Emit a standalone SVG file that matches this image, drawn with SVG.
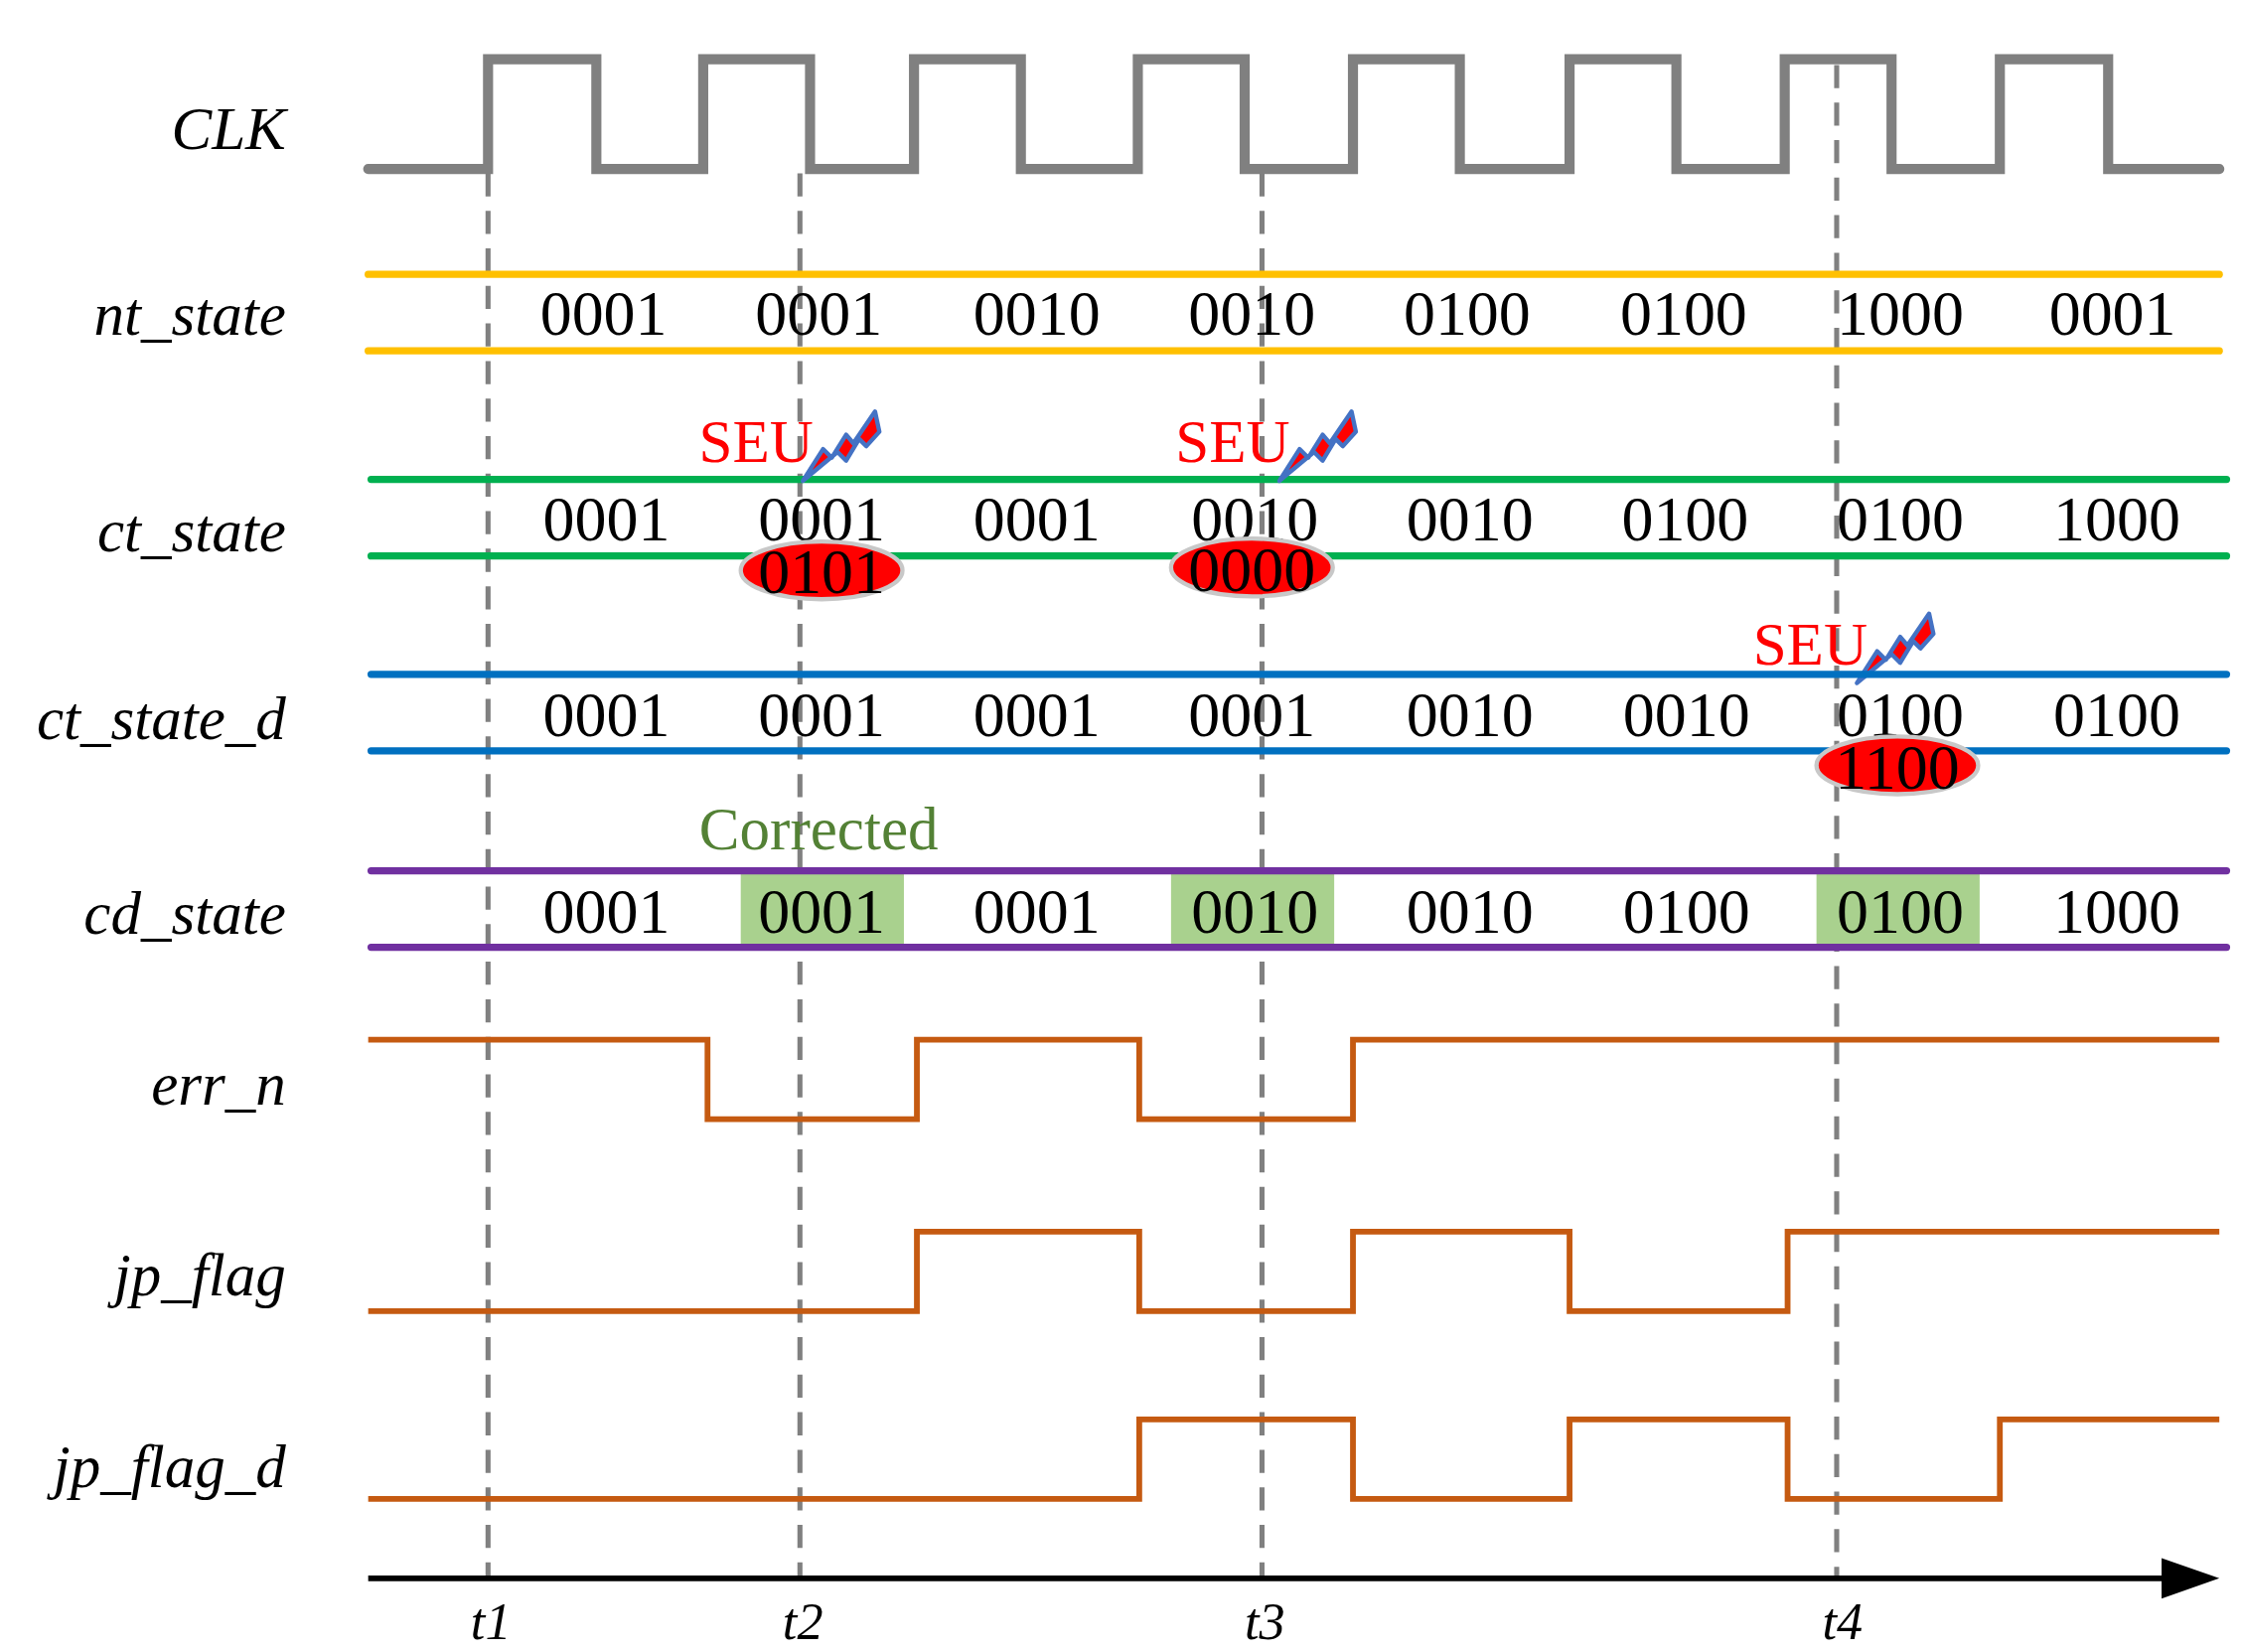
<svg xmlns="http://www.w3.org/2000/svg" width="2256" height="1663" viewBox="0 0 2256 1663">
<defs>
<style>
.lbl{font-family:"Liberation Serif",serif;font-style:italic;font-size:42px;text-anchor:end;fill:#000}
.v{font-family:"Liberation Serif",serif;font-size:44px;text-anchor:middle;fill:#000}
.t{font-family:"Liberation Serif",serif;font-style:italic;font-size:36px;text-anchor:middle;fill:#000}
.seu{font-family:"Liberation Serif",serif;font-size:42px;fill:#FF0000}
.sig{fill:none;stroke:#C55A11;stroke-width:4}
.dash{stroke:#808080;stroke-width:3.5;stroke-dasharray:16 10;fill:none}
.ell{fill:#FF0000;stroke:#C8C8C8;stroke-width:3}
.bolt{fill:#FF0000;stroke:#4472C4;stroke-width:3;stroke-linejoin:round}
.hl{fill:#A9D18E}
</style>
<symbol id="bolt" overflow="visible"><polygon class="bolt" points="0,48 14,26 20,32 30,16 35,22 50,0 53,14 44,24 39,19 30,34 24,28"/></symbol>
</defs>
<rect width="2256" height="1663" fill="#fff"/>
<g transform="scale(1.4536)">
<g id="labels">
<text class="lbl" x="198" y="103">CLK</text>
<text class="lbl" x="198" y="232">nt_state</text>
<text class="lbl" x="198" y="382">ct_state</text>
<text class="lbl" x="198" y="512">ct_state_d</text>
<text class="lbl" x="198" y="647">cd_state</text>
<text class="lbl" x="198" y="765">err_n</text>
<text class="lbl" x="198" y="897">jp_flag</text>
<text class="lbl" x="198" y="1030">jp_flag_d</text>
</g>
<g id="clk"><path d="M255,117 H338 V41 H413 V117 H487 V41 H561 V117 H633 V41 H707 V117 H788 V41 H862 V117 H937 V41 H1011 V117 H1087 V41 H1161 V117 H1236 V41 H1310 V117 H1385 V41 H1460 V117 H1537" fill="none" stroke="#808080" stroke-width="7" stroke-linecap="round"/></g>
<g id="connectors">
<line class="dash" x1="338" y1="120" x2="338" y2="1093"/>
<line class="dash" x1="554" y1="120" x2="554" y2="1093"/>
<line class="dash" x1="874" y1="120" x2="874" y2="1093"/>
<line class="dash" x1="1272" y1="45" x2="1272" y2="1093"/>
<line x1="255" y1="1093" x2="1500" y2="1093" stroke="#000" stroke-width="4"/>
<polygon points="1497,1079 1537,1093 1497,1107" fill="#000"/>
</g>
<g id="nt_state">
<line x1="255" y1="190" x2="1537" y2="190" stroke="#FFC000" stroke-width="5" stroke-linecap="round"/>
<line x1="255" y1="243" x2="1537" y2="243" stroke="#FFC000" stroke-width="5" stroke-linecap="round"/>
<text class="v" x="418" y="232">0001</text><text class="v" x="567" y="232">0001</text><text class="v" x="718" y="232">0010</text><text class="v" x="867" y="232">0010</text><text class="v" x="1016" y="232">0100</text><text class="v" x="1166" y="232">0100</text><text class="v" x="1316" y="232">1000</text><text class="v" x="1463" y="232">0001</text>
</g>
<g id="ct_state">
<line x1="257" y1="332" x2="1542" y2="332" stroke="#00B050" stroke-width="5" stroke-linecap="round"/>
<line x1="257" y1="385" x2="1542" y2="385" stroke="#00B050" stroke-width="5" stroke-linecap="round"/>
<text class="v" x="420" y="374">0001</text><text class="v" x="569" y="374">0001</text><text class="v" x="718" y="374">0001</text><text class="v" x="869" y="374">0010</text><text class="v" x="1018" y="374">0010</text><text class="v" x="1167" y="374">0100</text><text class="v" x="1316" y="374">0100</text><text class="v" x="1466" y="374">1000</text>
<ellipse class="ell" cx="569" cy="395" rx="56" ry="20"/><text class="v" x="569" y="411">0101</text>
<ellipse class="ell" cx="867" cy="393" rx="56" ry="20"/><text class="v" x="867" y="409">0000</text>
</g>
<g id="seu1"><text class="seu" x="484" y="320">SEU</text><use href="#bolt" x="556" y="285"/></g>
<g id="seu2"><text class="seu" x="814" y="320">SEU</text><use href="#bolt" x="886" y="285"/></g>
<g id="seu3"><text class="seu" x="1214" y="460">SEU</text><use href="#bolt" x="1286" y="425"/></g>
<g id="ct_state_d">
<line x1="257" y1="467" x2="1542" y2="467" stroke="#0070C0" stroke-width="5" stroke-linecap="round"/>
<line x1="257" y1="520" x2="1542" y2="520" stroke="#0070C0" stroke-width="5" stroke-linecap="round"/>
<text class="v" x="420" y="510">0001</text><text class="v" x="569" y="510">0001</text><text class="v" x="718" y="510">0001</text><text class="v" x="867" y="510">0001</text><text class="v" x="1018" y="510">0010</text><text class="v" x="1168" y="510">0010</text><text class="v" x="1316" y="510">0100</text><text class="v" x="1466" y="510">0100</text>
<ellipse class="ell" cx="1314" cy="530" rx="56" ry="20"/><text class="v" x="1314" y="546">1100</text>
</g>
<g id="corrected"><text x="567" y="588" font-family="Liberation Serif,serif" font-size="42" fill="#538135" text-anchor="middle">Corrected</text></g>
<g id="cd_state">
<rect class="hl" x="513" y="603" width="113" height="53"/>
<rect class="hl" x="811" y="603" width="113" height="53"/>
<rect class="hl" x="1258" y="603" width="113" height="53"/>
<line x1="257" y1="603" x2="1542" y2="603" stroke="#7030A0" stroke-width="5" stroke-linecap="round"/>
<line x1="257" y1="656" x2="1542" y2="656" stroke="#7030A0" stroke-width="5" stroke-linecap="round"/>
<text class="v" x="420" y="646">0001</text><text class="v" x="569" y="646">0001</text><text class="v" x="718" y="646">0001</text><text class="v" x="869" y="646">0010</text><text class="v" x="1018" y="646">0010</text><text class="v" x="1168" y="646">0100</text><text class="v" x="1316" y="646">0100</text><text class="v" x="1466" y="646">1000</text>
</g>
<g id="err_n"><path class="sig" d="M255,720 H490 V775 H635 V720 H789 V775 H937 V720 H1537"/></g>
<g id="jp_flag"><path class="sig" d="M255,908 H635 V853 H789 V908 H937 V853 H1087 V908 H1238 V853 H1537"/></g>
<g id="jp_flag_d"><path class="sig" d="M255,1038 H789 V983 H937 V1038 H1087 V983 H1238 V1038 H1385 V983 H1537"/></g>
<g id="ticks">
<text class="t" x="340" y="1135">t1</text><text class="t" x="556" y="1135">t2</text><text class="t" x="876" y="1135">t3</text><text class="t" x="1276" y="1135">t4</text>
</g>
</g>
</svg>
